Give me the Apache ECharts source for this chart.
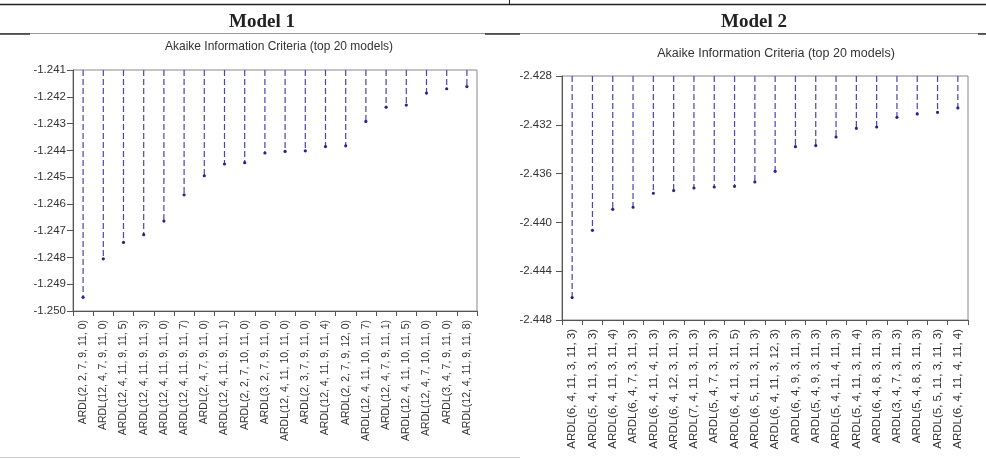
<!DOCTYPE html>
<html>
<head>
<meta charset="utf-8">
<script src="https://cdn.jsdelivr.net/npm/echarts@6/dist/echarts.min.js"></script>
<style>html,body{margin:0;padding:0;background:#fff;}#c{width:986px;height:459px;}</style>
</head>
<body>
<div id="c"></div>
<script>
// ---- Model 1 data ----
const m1Labels = [
  'ARDL(2, 2, 7, 9, 11, 0)','ARDL(12, 4, 7, 9, 11, 0)','ARDL(12, 4, 11, 9, 11, 5)','ARDL(12, 4, 11, 9, 11, 3)',
  'ARDL(12, 4, 11, 9, 11, 0)','ARDL(12, 4, 11, 9, 11, 7)','ARDL(2, 4, 7, 9, 11, 0)','ARDL(12, 4, 11, 9, 11, 1)',
  'ARDL(2, 2, 7, 10, 11, 0)','ARDL(3, 2, 7, 9, 11, 0)','ARDL(12, 4, 11, 10, 11, 0)','ARDL(2, 3, 7, 9, 11, 0)',
  'ARDL(12, 4, 11, 9, 11, 4)','ARDL(2, 2, 7, 9, 12, 0)','ARDL(12, 4, 11, 10, 11, 7)','ARDL(12, 4, 7, 9, 11, 1)',
  'ARDL(12, 4, 11, 10, 11, 5)','ARDL(12, 4, 7, 10, 11, 0)','ARDL(3, 4, 7, 9, 11, 0)','ARDL(12, 4, 11, 9, 11, 8)'
];
const m1Values = [
  -1.24949,-1.24805,-1.24744,-1.24715,-1.24664,-1.24566,-1.24495,-1.24451,-1.24446,-1.24410,
  -1.24404,-1.24402,-1.24386,-1.24383,-1.24292,-1.24239,-1.24231,-1.24186,-1.24170,-1.24162
];
const m1YMin = -1.250, m1YMax = -1.241, m1YStep = 0.001;

// ---- Model 2 data ----
const m2Labels = [
  'ARDL(6, 4, 11, 3, 11, 3)','ARDL(5, 4, 11, 3, 11, 3)','ARDL(6, 4, 11, 3, 11, 4)','ARDL(6, 4, 7, 3, 11, 3)',
  'ARDL(6, 4, 11, 4, 11, 3)','ARDL(6, 4, 12, 3, 11, 3)','ARDL(7, 4, 11, 3, 11, 3)','ARDL(5, 4, 7, 3, 11, 3)',
  'ARDL(6, 4, 11, 3, 11, 5)','ARDL(6, 5, 11, 3, 11, 3)','ARDL(6, 4, 11, 3, 12, 3)','ARDL(6, 4, 9, 3, 11, 3)',
  'ARDL(5, 4, 9, 3, 11, 3)','ARDL(5, 4, 11, 4, 11, 3)','ARDL(5, 4, 11, 3, 11, 4)','ARDL(6, 4, 8, 3, 11, 3)',
  'ARDL(3, 4, 7, 3, 11, 3)','ARDL(5, 4, 8, 3, 11, 3)','ARDL(5, 5, 11, 3, 11, 3)','ARDL(6, 4, 11, 4, 11, 4)'
];
const m2Values = [
  -2.44616,-2.44065,-2.43893,-2.43876,-2.43761,-2.43739,-2.43718,-2.43710,-2.43704,-2.43669,
  -2.43581,-2.43379,-2.43370,-2.43300,-2.43229,-2.43218,-2.43139,-2.43111,-2.43098,-2.43062
];
const m2YMin = -2.448, m2YMax = -2.428, m2YStep = 0.004;

const panelTitles = ['Model 1', 'Model 2'];
const chartTitle = 'Akaike Information Criteria (top 20 models)';

const chart = echarts.init(document.getElementById('c'), null, {renderer: 'canvas'});

function stemRenderer(yMax) {
  return function (params, api) {
    const p = api.coord([api.value(0), api.value(1)]);
    const t = api.coord([api.value(0), yMax]);
    return {
      type: 'group',
      children: [
        {type: 'line', shape: {x1: p[0], y1: t[1], x2: p[0], y2: p[1]},
         style: {stroke: '#4646b8', lineWidth: 1.2, lineDash: [6, 3]}},
        {type: 'circle', shape: {cx: p[0], cy: p[1], r: 1.6},
         style: {fill: '#25258a'}}
      ]
    };
  };
}

function yAxisCfg(gi, mn, mx, st, fs, mg) {
  return {
    type: 'value', gridIndex: gi, min: mn, max: mx, interval: st,
    axisLine: {show: true, lineStyle: {color: '#555', width: 1}},
    axisTick: {show: true, length: 6, lineStyle: {color: '#555'}},
    splitLine: {show: false},
    axisLabel: {color: '#333', fontFamily: 'Liberation Sans, Arial', fontSize: fs, margin: mg,
                formatter: v => v.toFixed(3)}
  };
}
function xAxisCfg(gi, labels, fs) {
  return {
    type: 'category', gridIndex: gi, data: labels, boundaryGap: true,
    axisLine: {show: true, lineStyle: {color: '#555', width: 1}},
    axisTick: {show: true, length: 5, interval: 0, lineStyle: {color: '#555'}},
    axisLabel: {interval: 0, rotate: 90, color: '#333', fontFamily: 'Liberation Sans, Arial',
                fontSize: fs, margin: 9}
  };
}

chart.setOption({
  animation: false,
  backgroundColor: '#fff',
  title: [
    {text: panelTitles[0], left: 257, top: 8, textAlign: 'center',
     textStyle: {fontFamily: 'Liberation Serif, Times New Roman', fontWeight: 'bold', fontSize: 19, color: '#222'}},
    {text: panelTitles[1], left: 749, top: 8, textAlign: 'center',
     textStyle: {fontFamily: 'Liberation Serif, Times New Roman', fontWeight: 'bold', fontSize: 19, color: '#222'}},
    {text: chartTitle, left: 274, top: 36, textAlign: 'center',
     textStyle: {fontFamily: 'Liberation Sans, Arial', fontWeight: 'normal', fontSize: 12, color: '#333'}},
    {text: chartTitle, left: 771, top: 42, textAlign: 'center',
     textStyle: {fontFamily: 'Liberation Sans, Arial', fontWeight: 'normal', fontSize: 12.5, color: '#333'}}
  ],
  graphic: [
    {type: 'line', shape: {x1: 0, y1: 4.5, x2: 986, y2: 4.5}, style: {stroke: '#222', lineWidth: 1.5}},
    {type: 'line', shape: {x1: 509.5, y1: 0, x2: 509.5, y2: 5}, style: {stroke: '#222', lineWidth: 1}},
    {type: 'line', shape: {x1: 0, y1: 33.5, x2: 986, y2: 33.5}, style: {stroke: '#999', lineWidth: 1}},
    {type: 'line', shape: {x1: 0, y1: 34, x2: 30, y2: 34}, style: {stroke: '#333', lineWidth: 1.5}},
    {type: 'line', shape: {x1: 485, y1: 34, x2: 520, y2: 34}, style: {stroke: '#333', lineWidth: 1.5}},
    {type: 'line', shape: {x1: 978, y1: 34, x2: 986, y2: 34}, style: {stroke: '#333', lineWidth: 1.5}},
    {type: 'line', shape: {x1: 0, y1: 457.5, x2: 520, y2: 457.5}, style: {stroke: '#ccc', lineWidth: 1}}
  ],
  grid: [
    {left: 73, top: 70, width: 404, height: 241, show: true, borderColor: '#888', borderWidth: 1, backgroundColor: 'transparent'},
    {left: 562, top: 76, width: 406, height: 244, show: true, borderColor: '#888', borderWidth: 1, backgroundColor: 'transparent'}
  ],
  xAxis: [xAxisCfg(0, m1Labels, 10.5), xAxisCfg(1, m2Labels, 11.5)],
  yAxis: [yAxisCfg(0, m1YMin, m1YMax, m1YStep, 11.5, 7), yAxisCfg(1, m2YMin, m2YMax, m2YStep, 11.5, 10)],
  series: [
    {type: 'custom', xAxisIndex: 0, yAxisIndex: 0, renderItem: stemRenderer(m1YMax),
     data: m1Values.map((v, i) => [i, v]), clip: true},
    {type: 'custom', xAxisIndex: 1, yAxisIndex: 1, renderItem: stemRenderer(m2YMax),
     data: m2Values.map((v, i) => [i, v]), clip: true}
  ]
});
</script>
</body>
</html>
